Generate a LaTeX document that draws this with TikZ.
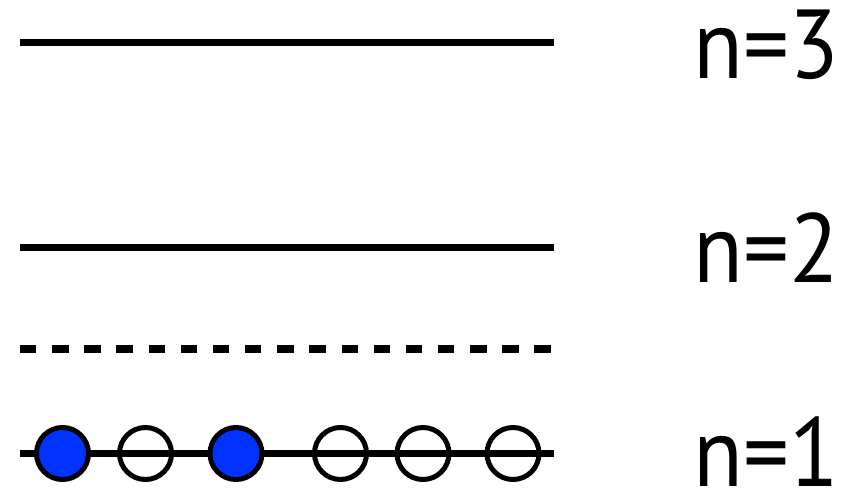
\documentclass[tikz,border=0pt]{standalone}
\usepackage{fontspec}
\setmainfont{PT Sans}
\definecolor{eblue}{RGB}{0,51,255}
\newcommand{\lvltxt}[1]{\scalebox{0.93}[1]{#1}}
\begin{document}
\begin{tikzpicture}[x=1pt,y=-1pt,
  level/.style={line width=7pt},
  gapline/.style={line width=8pt, dash pattern=on 16.4pt off 15.75pt},
  orb/.style={circle, draw, line width=5pt, minimum size=52pt, inner sep=0pt},
  full/.style={orb, fill=eblue},
  lbl/.style={anchor=base west, inner sep=0pt, font=\fontsize{98}{98}\selectfont}]
\useasboundingbox (0,0) rectangle (845,490);
% levels
\coordinate (a3) at (20,42);  \coordinate (b3) at (554,42);
\coordinate (a2) at (20,247); \coordinate (b2) at (554,247);
\coordinate (ad) at (20,349); \coordinate (bd) at (551,349);
\coordinate (a1) at (20,453); \coordinate (b1) at (554,453);
\draw[level] (a3) -- (b3);
\draw[level] (a2) -- (b2);
\draw[gapline] (ad) -- (bd);
\draw[level] (a1) -- (b1);
% electrons
\node[full] (c1) at (62.5,453.5) {};
\node[orb]  (c2) at (145.5,453.5) {};
\node[full] (c3) at (236,453.5) {};
\node[orb]  (c4) at (340.5,453.5) {};
\node[orb]  (c5) at (423,453.5) {};
\node[orb]  (c6) at (513,453.5) {};
% labels
\node[lbl] (n3) at (693,78) {\lvltxt{n=3}};
\node[lbl] (n2) at (693,282) {\lvltxt{n=2}};
\node[lbl] (n1) at (693,486) {\lvltxt{n=1}};
\end{tikzpicture}
\end{document}
